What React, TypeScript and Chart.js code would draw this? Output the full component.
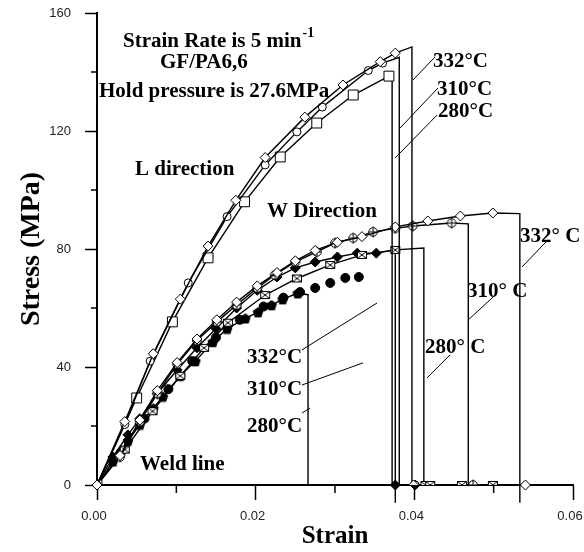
import React, { useEffect, useRef } from 'react';
import { Chart, registerables } from 'chart.js';

Chart.register(...registerables);

// ---------- axes ----------
const X_MIN = 0;
const X_MAX = 0.06;
const X_STEP = 0.01;
const Y_MIN = 0;
const Y_MAX = 160;
const Y_STEP = 20;
const xLabelTicks = [0, 0.02, 0.04, 0.06];
const yLabelTicks = [0, 40, 80, 120, 160];
const xMinorTicks = [0.01, 0.03, 0.05];
const yMinorTicks = [20, 60, 100, 140];

// ---------- data: [strain, stress MPa] ----------
// L direction
const L332 = [[0, 0], [0.0035, 21.5], [0.0071, 44.5], [0.0105, 63], [0.014, 81], [0.0175, 96.5], [0.0212, 111], [0.0262, 124.7], [0.031, 135.6], [0.0357, 143.5], [0.0376, 146.4]];
const L332End = [0.0397, 148.5];
const L332Zero = [0.0399];

const L310 = [[0, 0], [0.0035, 20.5], [0.0067, 42], [0.0115, 68.5], [0.0164, 91], [0.0212, 108.5], [0.0252, 119.7], [0.0284, 128.1], [0.0342, 140.5], [0.036, 143]];
const L310End = [0.0381, 145];
const L310Zero = [0.0401];

const L280 = [[0, 0], [0.005, 29.5], [0.0095, 55.3], [0.014, 77], [0.0186, 96], [0.0231, 111.2], [0.0277, 122.7], [0.0323, 132.2], [0.0368, 138.6]];
const L280End = [0.0372, 138.8];
const L280Zero: number[] = [];

// W direction
const W332 = [[0, 0], [0.0029, 10], [0.0054, 22], [0.0076, 32], [0.0101, 41.5], [0.0126, 49.5], [0.0151, 56], [0.0176, 62], [0.0202, 67.5], [0.0227, 72], [0.025, 76], [0.0275, 79.5], [0.0303, 82.3], [0.0334, 84.2], [0.0376, 87.5], [0.0417, 89.5], [0.0458, 91.2], [0.0499, 92.2]];
const W332End = [0.0533, 92];
const W332Zero = [0.054];

const W310 = [[0, 0], [0.0029, 9.5], [0.0054, 21.5], [0.0076, 31], [0.0101, 41], [0.0126, 49], [0.0151, 55.3], [0.0176, 61], [0.0202, 66.8], [0.0224, 71.2], [0.025, 75.6], [0.0277, 79], [0.03, 82], [0.0323, 83.7], [0.0348, 85.8], [0.0376, 87], [0.0398, 87.8], [0.0447, 88.8]];
const W310End = [0.0468, 88.5];
const W310Zero = [0.0474];

const W280 = [[0, 0], [0.0035, 12], [0.007, 25], [0.0105, 37], [0.0135, 46.5], [0.0165, 55], [0.0212, 64.4], [0.0252, 70], [0.0294, 74.6], [0.0334, 78], [0.0376, 79.7]];
const W280End = [0.0412, 80.3];
const W280Zero = [0.0414, 0.042, 0.046, 0.0499];

// Weld line
const Weld332 = [[0, 0], [0.002, 9.5], [0.0039, 17], [0.0054, 22.5], [0.0076, 31], [0.0101, 39], [0.0126, 46.5], [0.015, 53], [0.0176, 60], [0.0202, 66], [0.0227, 70.5], [0.025, 73.6], [0.0275, 75.6], [0.0303, 77.3], [0.0328, 78.6], [0.0352, 78.6]];
const Weld332End = [0.0376, 79.7];
const Weld332Zero = [0.0376, 0.0401];

const Weld310 = [[0, 0], [0.003, 11], [0.006, 22.5], [0.009, 32.5], [0.012, 42], [0.015, 50], [0.018, 56], [0.021, 60.5], [0.0235, 63.5], [0.0256, 65.4], [0.0275, 66.8], [0.0294, 68.5], [0.0313, 70.2], [0.033, 70.5]];

const Weld280 = [[0, 0], [0.002, 8], [0.0039, 15], [0.0054, 20.5], [0.0071, 26], [0.0083, 30], [0.0105, 37], [0.0124, 42], [0.0146, 48.5], [0.0164, 53], [0.0187, 56.5], [0.0203, 58.6], [0.022, 61], [0.0234, 63], [0.0253, 65]];
const Weld280End = [0.0266, 64.5];

// ---------- annotations (data coordinates) ----------
const noteTexts = [
  { text: 'Strain Rate is 5 min', x: 0.00328, y: 148.5, sup: '-1' },
  { text: 'GF/PA6,6', x: 0.00794, y: 141.4 },
  { text: 'Hold pressure is 27.6MPa', x: 0.00025, y: 131.5 },
  { text: 'L direction', x: 0.00479, y: 105.1 },
  { text: 'W Direction', x: 0.02143, y: 90.8 },
  { text: 'Weld line', x: 0.00542, y: 5.1 },
  { text: '332°C', x: 0.04235, y: 141.7 },
  { text: '310°C', x: 0.04286, y: 132.2 },
  { text: '280°C', x: 0.04299, y: 124.7 },
  { text: '332° C', x: 0.05332, y: 82.4 },
  { text: '310° C', x: 0.04664, y: 63.7 },
  { text: '280° C', x: 0.04135, y: 44.7 },
  { text: '332°C', x: 0.01891, y: 41.4 },
  { text: '310°C', x: 0.01891, y: 30.5 },
  { text: '280°C', x: 0.01891, y: 18 },
];
const leaderLines = [
  [0.03983, 137.3, 0.04261, 145.1],
  [0.0382, 121, 0.04299, 134.6],
  [0.03756, 110.8, 0.04286, 125.4],
  [0.05357, 73.9, 0.05685, 83.1],
  [0.04677, 55.9, 0.04992, 63.7],
  [0.0416, 36.3, 0.0445, 44.1],
  [0.02584, 45.8, 0.0353, 61.7],
  [0.02584, 33.9, 0.03353, 41.4],
  [0.02584, 24.4, 0.02685, 26.1],
];

const SERIF = '"Liberation Serif", "Times New Roman", serif';
const SANS = '"Liberation Sans", Arial, sans-serif';

function makeMarker(kind: string): HTMLCanvasElement {
  const c = document.createElement('canvas');
  const s = 12;
  c.width = s;
  c.height = s;
  const g = c.getContext('2d') as CanvasRenderingContext2D;
  g.lineWidth = 1;
  g.strokeStyle = '#000';
  const m = s / 2;
  if (kind === 'crossCircle') {
    g.fillStyle = '#fff';
    g.beginPath();
    g.arc(m, m, 4.3, 0, Math.PI * 2);
    g.fill();
    g.stroke();
    g.beginPath();
    g.moveTo(m, 0.5);
    g.lineTo(m, s - 0.5);
    g.moveTo(1.5, m);
    g.lineTo(s - 1.5, m);
    g.stroke();
  } else if (kind === 'crossSquare') {
    g.fillStyle = '#fff';
    g.fillRect(1.5, 2.5, 9, 7);
    g.strokeRect(1.5, 2.5, 9, 7);
    g.beginPath();
    g.moveTo(1.5, 2.5);
    g.lineTo(10.5, 9.5);
    g.moveTo(10.5, 2.5);
    g.lineTo(1.5, 9.5);
    g.stroke();
  } else if (kind === 'pentagon') {
    g.fillStyle = '#000';
    g.beginPath();
    for (let i = 0; i < 5; i++) {
      const a = -Math.PI / 2 + (i * 2 * Math.PI) / 5;
      const px = m + 5.6 * Math.cos(a);
      const py = m + 0.6 + 5.6 * Math.sin(a);
      if (i === 0) g.moveTo(px, py);
      else g.lineTo(px, py);
    }
    g.closePath();
    g.fill();
  }
  return c;
}

type SeriesDef = {
  pts: number[][];
  end?: number[];
  floor?: number;
  zeros?: number[];
  style: any;
  r: number;
  fill: string;
  showLine?: boolean;
  width?: number;
};

function buildDataset(s: SeriesDef) {
  const data: { x: number; y: number }[] = [];
  const radii: number[] = [];
  s.pts.forEach(([x, y]) => {
    data.push({ x, y });
    radii.push(s.r);
  });
  if (s.end) {
    const floor = s.floor ?? 0;
    data.push({ x: s.end[0], y: s.end[1] });
    radii.push(0);
    data.push({ x: s.end[0], y: floor });
    radii.push(0);
    if (floor !== 0) {
      data.push({ x: s.end[0], y: 0 });
      radii.push(0);
    }
    (s.zeros || []).forEach((z) => {
      data.push({ x: z, y: 0 });
      radii.push(s.r);
    });
  }
  return {
    data,
    showLine: s.showLine !== false,
    borderColor: '#000',
    borderWidth: s.width ?? 1.4,
    pointStyle: s.style,
    pointRadius: radii,
    pointBackgroundColor: s.fill,
    pointBorderColor: '#000',
    pointBorderWidth: 1,
    tension: 0,
    clip: (s.floor ?? 0) < 0 ? false : undefined,
    segment: {
      borderDash: (ctx: any) =>
        ctx.p0.parsed.y === 0 && ctx.p1.parsed.y === 0 && ctx.p0.parsed.x !== ctx.p1.parsed.x ? [2, 3] : undefined,
    },
  };
}

const notesPlugin = {
  id: 'notes',
  afterDatasetsDraw(chart: any) {
    const { ctx, scales } = chart;
    const xs = scales.x;
    const ys = scales.y;
    ctx.save();
    ctx.strokeStyle = '#000';
    ctx.lineWidth = 1;
    leaderLines.forEach(([x1, y1, x2, y2]) => {
      ctx.beginPath();
      ctx.moveTo(xs.getPixelForValue(x1), ys.getPixelForValue(y1));
      ctx.lineTo(xs.getPixelForValue(x2), ys.getPixelForValue(y2));
      ctx.stroke();
    });
    ctx.fillStyle = '#000';
    ctx.textBaseline = 'alphabetic';
    ctx.textAlign = 'left';
    noteTexts.forEach((n) => {
      ctx.font = `bold 21px ${SERIF}`;
      const px = xs.getPixelForValue(n.x);
      const py = ys.getPixelForValue(n.y);
      ctx.fillText(n.text, px, py);
      if (n.sup) {
        const w = ctx.measureText(n.text).width;
        ctx.font = `bold 14px ${SERIF}`;
        ctx.fillText(n.sup, px + w + 1, py - 10);
      }
    });
    // minor ticks
    const { left, bottom } = chart.chartArea;
    ctx.lineWidth = 1.5;
    yMinorTicks.forEach((v) => {
      const py = ys.getPixelForValue(v);
      ctx.beginPath();
      ctx.moveTo(left - 6, py);
      ctx.lineTo(left, py);
      ctx.stroke();
    });
    xMinorTicks.forEach((v) => {
      const px = xs.getPixelForValue(v);
      ctx.beginPath();
      ctx.moveTo(px, bottom);
      ctx.lineTo(px, bottom + 8);
      ctx.stroke();
    });
    ctx.restore();
  },
};

const isLabelX = (v: number) => xLabelTicks.some((t) => Math.abs(t - v) < 1e-9);
const isLabelY = (v: number) => yLabelTicks.some((t) => Math.abs(t - v) < 1e-9);

export default function App() {
  const ref = useRef<HTMLCanvasElement>(null);
  useEffect(() => {
    if (!ref.current) return;
    const diamond = 'rectRot';
    const series: SeriesDef[] = [
      { pts: L332, end: L332End, zeros: L332Zero, style: diamond, r: 5, fill: '#fff' },
      { pts: L310, end: L310End, zeros: L310Zero, style: 'circle', r: 4, fill: '#fff' },
      { pts: L280, end: L280End, zeros: L280Zero, style: 'rect', r: 7, fill: '#fff' },
      { pts: W332, end: W332End, zeros: W332Zero, floor: -6, style: diamond, r: 5, fill: '#fff' },
      { pts: W310, end: W310End, zeros: W310Zero, style: makeMarker('crossCircle'), r: 5, fill: '#fff' },
      { pts: W280, end: W280End, zeros: W280Zero, style: makeMarker('crossSquare'), r: 5, fill: '#fff' },
      { pts: Weld332, end: Weld332End, zeros: Weld332Zero, floor: -6, style: diamond, r: 5, fill: '#000' },
      { pts: Weld310, style: 'circle', r: 4.5, fill: '#000', showLine: false },
      { pts: Weld280, end: Weld280End, zeros: [], style: makeMarker('pentagon'), r: 5, fill: '#000' },
    ];
    const chart = new Chart(ref.current, {
      type: 'line',
      data: { datasets: series.map(buildDataset) as any },
      plugins: [notesPlugin],
      options: {
        animation: false,
        responsive: false,
        events: [],
        layout: { padding: { top: 13, right: 11, left: 0, bottom: 0 } },
        plugins: { legend: { display: false }, tooltip: { enabled: false } },
        scales: {
          x: {
            type: 'linear',
            min: X_MIN,
            max: X_MAX,
            ticks: {
              stepSize: X_STEP,
              autoSkip: false,
              maxRotation: 0,
              padding: 9,
              labelOffset: -3,
              color: '#222',
              font: { family: SANS, size: 13 },
              callback: (v: any) => (isLabelX(Number(v)) ? Number(v).toFixed(2) : ''),
            },
            grid: {
              drawOnChartArea: false,
              tickLength: 15,
              tickWidth: 1.5,
              tickColor: (c: any) => (c.tick && isLabelX(c.tick.value) ? '#000' : 'rgba(0,0,0,0)'),
            },
            border: { color: '#000', width: 2 },
            title: {
              display: true,
              text: 'Strain',
              color: '#000',
              font: { family: SERIF, size: 25, weight: 'bold' },
              padding: { top: 0, bottom: 0 },
            },
            afterFit: (s: any) => {
              s.height = 67;
              s.paddingRight = 0;
              s.paddingLeft = 0;
            },
          },
          y: {
            type: 'linear',
            min: Y_MIN,
            max: Y_MAX,
            ticks: {
              stepSize: Y_STEP,
              autoSkip: false,
              padding: 14,
              color: '#222',
              font: { family: SANS, size: 13 },
              callback: (v: any) => (isLabelY(Number(v)) ? String(v) : ''),
            },
            grid: {
              drawOnChartArea: false,
              tickLength: 12,
              tickWidth: 1.5,
              tickColor: (c: any) => (c.tick && isLabelY(c.tick.value) ? '#000' : 'rgba(0,0,0,0)'),
            },
            border: { color: '#000', width: 2 },
            title: {
              display: true,
              text: 'Stress (MPa)',
              color: '#000',
              font: { family: SERIF, size: 28, weight: 'bold' },
              padding: { top: 15, bottom: 0 },
            },
            afterFit: (s: any) => {
              s.width = 97;
              s.paddingTop = 0;
              s.paddingBottom = 0;
            },
          },
        },
      } as any,
    });
    return () => chart.destroy();
  }, []);
  return (
    <div style={{ position: 'fixed', left: 0, top: 0, width: 584, height: 552, background: '#fff' }}>
      <canvas ref={ref} width={584} height={552} style={{ display: 'block' }} />
    </div>
  );
}
